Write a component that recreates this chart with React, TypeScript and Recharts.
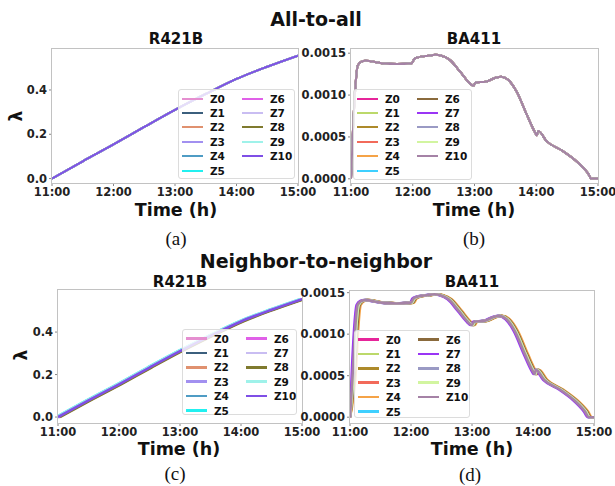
import React from 'react';
import { LineChart, Line, XAxis, YAxis } from 'recharts';

// zones, same order as the legends
const zones = ['Z0', 'Z1', 'Z2', 'Z3', 'Z4', 'Z5', 'Z6', 'Z7', 'Z8', 'Z9', 'Z10'];

const r421bColors = ['#e58fd0', '#3b5f7d', '#e0916f', '#a290f0', '#4f9cc4', '#22f0f0', '#e060e8', '#c9bdf2', '#7f7a2e', '#9ff2ea', '#7f4fe6'];
const ba411Colors = ['#e6259a', '#bcd96a', '#ad8a2a', '#f26a5a', '#f5a347', '#3fd0ff', '#8a6a3c', '#9a35f5', '#9a9ac4', '#d2f5a0', '#a582a6'];

// minutes after 11:00
const r421bTimes = [0, 30, 60, 90, 120, 150, 180, 210, 240];
const r421bLambda = [0, 0.078, 0.154, 0.233, 0.31, 0.382, 0.45, 0.505, 0.555];

const ba411Times = [0, 2, 4, 6.5, 10, 14, 30, 45, 59, 61.5, 65, 75, 82, 88, 96, 106, 114, 119, 121, 131, 141, 146, 153, 161, 171, 179, 180.5, 182, 190, 206, 219, 230, 234, 240];
const ba411Lambda = [0, 0.0006, 0.00105, 0.00135, 0.0014, 0.00141, 0.00138, 0.00137, 0.00138, 0.00143, 0.00145, 0.00147, 0.00148, 0.00147, 0.00142, 0.00128, 0.00116, 0.00111, 0.00115, 0.00116, 0.00121, 0.00122, 0.00118, 0.00104, 0.00076, 0.00055, 0.00052, 0.00057, 0.00045, 0.00033, 0.00021, 0.00007, 0, 0];

// neighbor-to-neighbor: delay of each zone (minutes) (c) and (d)
const r421bLagN2N = [-0.5, 0.5, 1, 0, -0.5, -2, 0.5, -1, 2, -1.5, 0];
const ba411LagN2N = [2, 2, 3, 2, 4, 1, 3, 0, 2, 2, 1];
const noLag = [0, 0, 0, 0, 0, 0, 0, 0, 0, 0, 0];

const minuteTicks = [0, 60, 120, 180, 240];
const hourLabels = ['11:00', '12:00', '13:00', '14:00', '15:00'];
const r421bTicks = [0, 0.2, 0.4];
const ba411Ticks = [0, 0.0005, 0.001, 0.0015];

const FONT = 'DejaVu Sans';

type Rect = { x: number; y: number; w: number; h: number };

function shift(times: number[], values: number[], lag: number, holdStart: boolean) {
  return times.map((t, i) => ({ t: holdStart && i === 0 ? t : t + lag, v: values[i] }));
}

function Text({ x, y, size, children, bold = true, serif = false, rotate = 0 }: any) {
  return (
    <div
      style={{
        position: 'absolute',
        left: x,
        top: y,
        transform: `translate(-50%, -50%) rotate(${rotate}deg)`,
        fontFamily: serif ? 'Liberation Serif' : FONT,
        fontWeight: bold ? 700 : 400,
        fontSize: size,
        lineHeight: 1,
        whiteSpace: 'nowrap',
        color: '#111',
      }}
    >
      {children}
    </div>
  );
}

function Legend({ box, colors, lineW }: { box: Rect; colors: string[]; lineW: number }) {
  return (
    <div
      style={{
        position: 'absolute',
        left: box.x,
        top: box.y,
        width: box.w,
        height: box.h,
        boxSizing: 'border-box',
        border: '1px solid #dcdcdc',
        borderRadius: 3,
        background: 'rgba(255,255,255,0.8)',
      }}
    >
      {zones.map((z, i) => {
        const col = i < 6 ? 0 : 1;
        const row = i < 6 ? i : i - 6;
        const cy = 8.5 + row * 14.4;
        const cx = col === 0 ? 3 : 63;
        return (
          <React.Fragment key={z}>
            <div style={{ position: 'absolute', left: cx, top: cy - lineW / 2, width: 21, height: lineW, background: colors[i] }} />
            <div
              style={{
                position: 'absolute',
                left: cx + 28,
                top: cy - 6,
                fontFamily: FONT,
                fontWeight: 700,
                fontSize: 10.5,
                lineHeight: '12px',
                color: '#111',
              }}
            >
              {z}
            </div>
          </React.Fragment>
        );
      })}
    </div>
  );
}

function Panel({ plot, times, values, lags, holdStart, colors, domain, ticks, digits, strokeWidth, legend, legendLine }: any) {
  const width = plot.w + 80;
  const height = plot.h + 40;
  return (
    <>
      <div style={{ position: 'absolute', left: plot.x - 50, top: plot.y - 10 }}>
        <LineChart width={width} height={height} margin={{ top: 10, right: 30, left: 0, bottom: 0 }}>
          <XAxis
            type="number"
            dataKey="t"
            domain={[0, 240]}
            ticks={minuteTicks}
            allowDataOverflow
            height={30}
            axisLine={false}
            tickSize={3}
            tickLine={{ stroke: '#888' }}
            tickFormatter={(v: number) => hourLabels[minuteTicks.indexOf(v)]}
            tick={{ fontSize: 11.5, fontWeight: 700, fill: '#222', fontFamily: FONT }}
          />
          <YAxis
            type="number"
            dataKey="v"
            domain={domain}
            ticks={ticks}
            allowDataOverflow
            width={50}
            axisLine={false}
            tickSize={3}
            tickLine={{ stroke: '#888' }}
            tickFormatter={(v: number) => v.toFixed(digits)}
            tick={{ fontSize: 11.5, fontWeight: 700, fill: '#222', fontFamily: FONT }}
          />
          {zones.map((z, i) => (
            <Line
              key={z}
              data={shift(times, values, lags[i], holdStart)}
              dataKey="v"
              name={z}
              type="monotone"
              stroke={colors[i]}
              strokeWidth={strokeWidth}
              dot={false}
              activeDot={false}
              isAnimationActive={false}
            />
          ))}
        </LineChart>
      </div>
      <div
        style={{
          position: 'absolute',
          left: plot.x - 0.75,
          top: plot.y - 0.75,
          width: plot.w + 1.5,
          height: plot.h + 1.5,
          boxSizing: 'border-box',
          border: '1.5px solid #c2c2c2',
          pointerEvents: 'none',
        }}
      />
      <Legend box={legend} colors={colors} lineW={legendLine} />
    </>
  );
}

export default function App() {
  const pa = { x: 52, y: 49, w: 246, h: 134 };
  const pb = { x: 351, y: 49, w: 247, h: 134 };
  const pc = { x: 58, y: 290, w: 244, h: 133 };
  const pd = { x: 350, y: 291, w: 244, h: 132 };
  return (
    <div style={{ position: 'absolute', left: 0, top: 0, width: 615, height: 486, background: '#fff', overflow: 'hidden' }}>
      <Text x={316} y={19} size={19}>All-to-all</Text>
      <Text x={176} y={39} size={15}>R421B</Text>
      <Text x={474} y={39} size={15}>BA411</Text>
      <Panel plot={pa} times={r421bTimes} values={r421bLambda} lags={noLag} holdStart={false} colors={r421bColors}
        domain={[-0.02, 0.585]} ticks={r421bTicks} digits={1} strokeWidth={2} legend={{ x: 178, y: 89, w: 117, h: 90 }} legendLine={2} />
      <Panel plot={pb} times={ba411Times} values={ba411Lambda} lags={noLag} holdStart colors={ba411Colors}
        domain={[-0.00005, 0.00155]} ticks={ba411Ticks} digits={4} strokeWidth={2} legend={{ x: 353, y: 89, w: 119, h: 91 }} legendLine={2} />
      <Text x={16} y={116} size={17} rotate={-90}>λ</Text>
      <Text x={176} y={211} size={17.5}>Time (h)</Text>
      <Text x={474} y={211} size={17.5}>Time (h)</Text>
      <Text x={176} y={238} size={19} bold={false} serif>(a)</Text>
      <Text x={474} y={238} size={19} bold={false} serif>(b)</Text>

      <Text x={316} y={261} size={19}>Neighbor-to-neighbor</Text>
      <Text x={180} y={282} size={15}>R421B</Text>
      <Text x={472} y={282} size={15}>BA411</Text>
      <Panel plot={pc} times={r421bTimes} values={r421bLambda} lags={r421bLagN2N} holdStart={false} colors={r421bColors}
        domain={[-0.028, 0.598]} ticks={r421bTicks} digits={1} strokeWidth={2.6} legend={{ x: 182, y: 329, w: 115, h: 86 }} legendLine={2.6} />
      <Panel plot={pd} times={ba411Times} values={ba411Lambda} lags={ba411LagN2N} holdStart colors={ba411Colors}
        domain={[-0.00007, 0.00152]} ticks={ba411Ticks} digits={4} strokeWidth={2.6} legend={{ x: 354, y: 330, w: 116, h: 88 }} legendLine={2.6} />
      <Text x={21} y={355} size={17} rotate={-90}>λ</Text>
      <Text x={179} y={450} size={17.5}>Time (h)</Text>
      <Text x={472} y={450} size={17.5}>Time (h)</Text>
      <Text x={175} y={473} size={19} bold={false} serif>(c)</Text>
      <Text x={470} y={474} size={19} bold={false} serif>(d)</Text>
    </div>
  );
}
